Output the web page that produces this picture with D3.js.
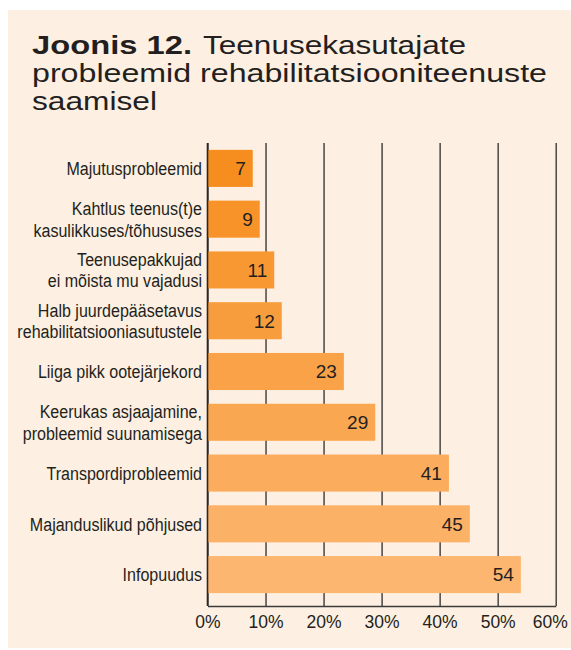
<!DOCTYPE html>
<html>
<head>
<meta charset="utf-8">
<script src="https://cdn.jsdelivr.net/npm/d3@7"></script>
<style>
  html, body { margin: 0; padding: 0; background: #ffffff; }
  svg { display: block; }
</style>
</head>
<body>
<div id="chart"></div>
<script>
"use strict";

// categories, top to bottom
const categories = [
    ["Majutusprobleemid"],
    ["Kahtlus teenus(t)e", "kasulikkuses/tõhususes"],
    ["Teenusepakkujad", "ei mõista mu vajadusi"],
    ["Halb juurdepääsetavus", "rehabilitatsiooniasutustele"],
    ["Liiga pikk ootejärjekord"],
    ["Keerukas asjaajamine,", "probleemid suunamisega"],
    ["Transpordiprobleemid"],
    ["Majanduslikud põhjused"],
    ["Infopuudus"]
];
// bar lengths (%)
const shares = [7.8, 9.0, 11.5, 12.8, 23.5, 28.9, 41.6, 45.2, 54.0];
// numbers printed on the bars
const printed = ["7", "9", "11", "12", "23", "29", "41", "45", "54"];
const xTicks = [0, 10, 20, 30, 40, 50, 60];

const cont = {
    width: 571,
    height: 650,
    left: 207.5,
    right: 555.7,
    top: 143,
    bottom: 600,
    axisY: 606
};
const ink = "#231f20";

let svg = d3.select("#chart")
    .append("svg")
    .attr("width", cont.width)
    .attr("height", cont.height);

// beige panel
svg.append("rect")
    .attr("x", 8)
    .attr("y", 10)
    .attr("width", cont.width - 8)
    .attr("height", 638)
    .attr("fill", "#fdf0e2");

// title, stretched to the wide face of the original
function titlePart(str, x, y, len, bold) {
    svg.append("text")
        .attr("x", x)
        .attr("y", y)
        .attr("textLength", len)
        .attr("lengthAdjust", "spacingAndGlyphs")
        .attr("font-family", "'Liberation Sans', Arial, sans-serif")
        .attr("font-size", 26)
        .attr("font-weight", bold ? "bold" : "normal")
        .attr("fill", ink)
        .text(str);
}
titlePart("Joonis 12.", 32, 54, 160, true);
titlePart("Teenusekasutajate", 203, 54, 263, false);
titlePart("probleemid rehabilitatsiooniteenuste", 32, 82, 515, false);
titlePart("saamisel", 32, 110, 125, false);

let x = d3.scaleLinear()
    .domain([0, 60])
    .range([cont.left, cont.right]);

let y = d3.scaleBand()
    .domain(d3.range(categories.length))
    .range([cont.top, cont.bottom])
    .paddingInner(0.27)
    .paddingOuter(0.135);

let color = d3.scaleLinear()
    .domain([0, categories.length - 1])
    .range(["#f68e1f", "#fcb670"])
    .interpolate(d3.interpolateRgb);

// vertical grid lines
let grid = d3.axisBottom(x)
    .tickValues(xTicks)
    .tickSize(-(cont.axisY - cont.top))
    .tickFormat("");
svg.append("g")
    .attr("transform", "translate(0," + cont.axisY + ")")
    .call(grid)
    .call(g => g.select(".domain").remove())
    .call(g => g.selectAll("line").attr("stroke", "#3d3a3a").attr("stroke-width", 1.4));

// bottom axis line and labels
let xAxis = d3.axisBottom(x)
    .tickValues(xTicks)
    .tickSize(0)
    .tickPadding(0)
    .tickFormat(d => d + "%");
svg.append("g")
    .attr("transform", "translate(0," + cont.axisY + ")")
    .call(xAxis)
    .call(g => g.select(".domain")
        .attr("stroke", "#3d3a3a")
        .attr("stroke-width", 1.6))
    .call(g => g.selectAll("text")
        .attr("dy", null)
        .attr("y", 22)
        .attr("x", d => d == 60 ? -6 : 0)
        .attr("font-family", "'Liberation Sans', Arial, sans-serif")
        .attr("font-size", 17.5)
        .attr("fill", ink));

// bars
svg.selectAll(".bar")
    .data(shares)
    .enter()
    .append("rect")
    .attr("class", "bar")
    .attr("x", x(0))
    .attr("y", (d, i) => y(i))
    .attr("width", d => x(d) - x(0))
    .attr("height", y.bandwidth())
    .attr("fill", (d, i) => color(i));

// zero line on top of bars
svg.append("line")
    .attr("x1", x(0))
    .attr("x2", x(0))
    .attr("y1", cont.top)
    .attr("y2", cont.axisY)
    .attr("stroke", "#2a2727")
    .attr("stroke-width", 1.6);

// value labels
svg.selectAll(".val")
    .data(shares)
    .enter()
    .append("text")
    .attr("class", "val")
    .attr("x", d => x(d) - 7)
    .attr("y", (d, i) => y(i) + y.bandwidth() / 2 + 6.8)
    .attr("text-anchor", "end")
    .attr("font-family", "'Liberation Sans', Arial, sans-serif")
    .attr("font-size", 19)
    .attr("fill", ink)
    .text((d, i) => printed[i]);

// category labels (no narrow face installed, so squeeze horizontally)
let lineH = 21.5;
let labelG = svg.append("g")
    .attr("transform", "translate(202,0) scale(0.845,1)");
categories.forEach((lines, i) => {
    let cy = y(i) + y.bandwidth() / 2 + 6.8 - (lines.length - 1) * lineH / 2;
    let t = labelG.append("text")
        .attr("text-anchor", "end")
        .attr("font-family", "'Liberation Sans', Arial, sans-serif")
        .attr("font-size", 19)
        .attr("fill", ink);
    lines.forEach((ln, j) => {
        t.append("tspan")
            .attr("x", 0)
            .attr("y", cy + j * lineH)
            .text(ln);
    });
});
</script>
</body>
</html>
